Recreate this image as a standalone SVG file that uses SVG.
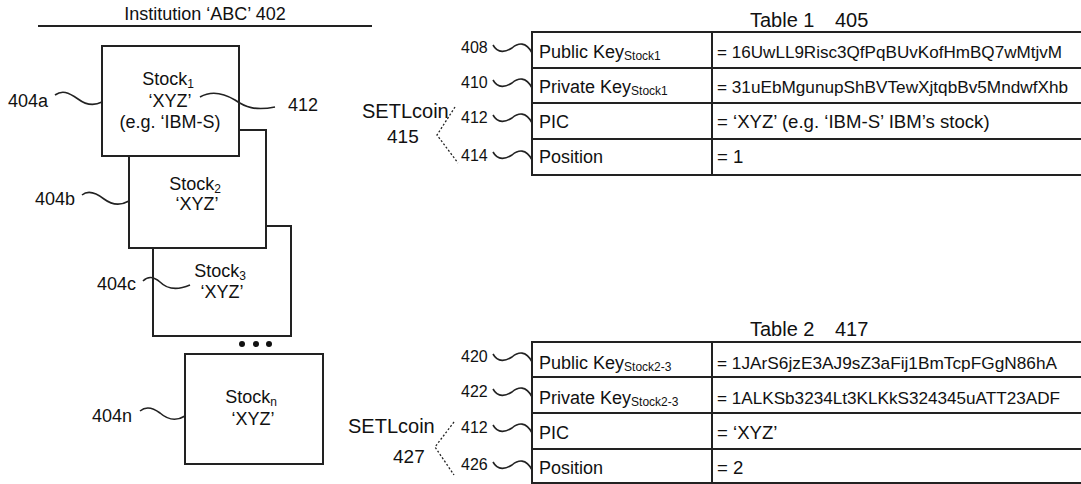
<svg xmlns="http://www.w3.org/2000/svg" width="1081" height="484" viewBox="0 0 1081 484">
<style>
text{font-family:"Liberation Sans",Arial,sans-serif;fill:#111}
.lbl{font-size:18px}
.val{font-size:18.6px}
.ttl{font-size:20px}
.box{fill:#fff;stroke:#222;stroke-width:2}
.tbl{fill:#fff;stroke:#222;stroke-width:2}
.sq{fill:none;stroke:#222;stroke-width:1.6}
.dot{fill:none;stroke:#222;stroke-width:1.3;stroke-dasharray:2 2}
.c{text-anchor:middle}
.sub{font-size:12px}
.key{font-size:17px}
.num{font-size:16px}
</style>
<g id="title">
<text class="lbl c" x="205" y="20">Institution ‘ABC’ 402</text>
<line x1="38" y1="26" x2="372" y2="26" stroke="#222" stroke-width="1.8"/>
</g>
<g id="stock3">
<rect class="box" x="153" y="226" width="138" height="110"/>
<text class="lbl c" x="220" y="277">Stock<tspan class="sub" dy="3">3</tspan></text>
<text class="lbl c" x="222" y="298">‘XYZ’</text>
</g>
<g id="stock2">
<rect class="box" x="129" y="130" width="137" height="118"/>
<text class="lbl c" x="195" y="190">Stock<tspan class="sub" dy="3">2</tspan></text>
<text class="lbl c" x="197" y="210">‘XYZ’</text>
</g>
<g id="stock1">
<rect class="box" x="102" y="46" width="137" height="110"/>
<text class="lbl c" x="168" y="85">Stock<tspan class="sub" dy="3">1</tspan></text>
<text class="lbl c" x="170" y="107">‘XYZ’</text>
<text class="lbl c" x="170" y="128">(e.g. ‘IBM-S)</text>
</g>
<g id="ellipsis">
<circle cx="242" cy="344" r="3" fill="#111"/>
<circle cx="256" cy="344" r="3" fill="#111"/>
<circle cx="269" cy="344" r="3" fill="#111"/>
</g>
<g id="stockn">
<rect class="box" x="185" y="354" width="138" height="110"/>
<text class="lbl c" x="251" y="403">Stock<tspan class="sub" dy="3">n</tspan></text>
<text class="lbl c" x="253" y="425">‘XYZ’</text>
</g>
<g id="labels-left">
<text class="lbl" x="8" y="107">404a</text>
<text class="lbl" x="35" y="205">404b</text>
<text class="lbl" x="97" y="290">404c</text>
<text class="lbl" x="92" y="422">404n</text>
<text class="lbl" x="288" y="111">412</text>
</g>
<g id="table1">
<text class="ttl" x="750" y="27">Table 1<tspan x="835">405</tspan></text>
<rect class="tbl" x="532" y="32" width="560" height="143"/>
<line x1="532" y1="68" x2="1090" y2="68" stroke="#222" stroke-width="2"/>
<line x1="532" y1="103" x2="1090" y2="103" stroke="#222" stroke-width="2"/>
<line x1="532" y1="139" x2="1090" y2="139" stroke="#222" stroke-width="2"/>
<line x1="712" y1="32" x2="712" y2="175" stroke="#222" stroke-width="2"/>
<text class="lbl" x="539" y="58">Public Key<tspan class="sub" dy="2">Stock1</tspan></text>
<text class="lbl" x="539" y="93">Private Key<tspan class="sub" dy="2">Stock1</tspan></text>
<text class="lbl" x="539" y="128">PIC</text>
<text class="lbl" x="539" y="163">Position</text>
<text class="key" x="717" y="58" textLength="345" lengthAdjust="spacingAndGlyphs">= 16UwLL9Risc3QfPqBUvKofHmBQ7wMtjvM</text>
<text class="key" x="717" y="93" textLength="351" lengthAdjust="spacingAndGlyphs">= 31uEbMgunupShBVTewXjtqbBv5MndwfXhb</text>
<text class="val" x="717" y="128">= ‘XYZ’ (e.g. ‘IBM-S’ IBM’s stock)</text>
<text class="val" x="717" y="163">= 1</text>
<text class="num" x="461" y="53">408</text>
<text class="num" x="461" y="88">410</text>
<text class="num" x="461" y="123">412</text>
<text class="num" x="461" y="161">414</text>
<text x="362" y="118" style="font-size:20px">SETLcoin</text>
<text x="387" y="143" style="font-size:19px">415</text>
</g>
<g id="table2">
<text class="ttl" x="750" y="336">Table 2<tspan x="835">417</tspan></text>
<rect class="tbl" x="532" y="342" width="560" height="141"/>
<line x1="532" y1="377" x2="1090" y2="377" stroke="#222" stroke-width="2"/>
<line x1="532" y1="413" x2="1090" y2="413" stroke="#222" stroke-width="2"/>
<line x1="532" y1="449" x2="1090" y2="449" stroke="#222" stroke-width="2"/>
<line x1="712" y1="342" x2="712" y2="484" stroke="#222" stroke-width="2"/>
<text class="lbl" x="539" y="369">Public Key<tspan class="sub" dy="2">Stock2-3</tspan></text>
<text class="lbl" x="539" y="404">Private Key<tspan class="sub" dy="2">Stock2-3</tspan></text>
<text class="lbl" x="539" y="439">PIC</text>
<text class="lbl" x="539" y="474">Position</text>
<text class="key" x="717" y="369" textLength="340" lengthAdjust="spacingAndGlyphs">= 1JArS6jzE3AJ9sZ3aFij1BmTcpFGgN86hA</text>
<text class="key" x="717" y="404" textLength="343" lengthAdjust="spacingAndGlyphs">= 1ALKSb3234Lt3KLKkS324345uATT23ADF</text>
<text class="val" x="717" y="439">= ‘XYZ’</text>
<text class="val" x="717" y="474">= 2</text>
<text class="num" x="461" y="362">420</text>
<text class="num" x="461" y="397">422</text>
<text class="num" x="461" y="433">412</text>
<text class="num" x="461" y="470">426</text>
<text x="348" y="433" style="font-size:20px">SETLcoin</text>
<text x="393" y="463" style="font-size:19px">427</text>
</g>
<g id="connectors">
<path class="sq" d="M55,95 C62,90 68,92 78,99 C86,105 94,106 102,102"/>
<path class="sq" d="M82,195 C88,190 95,192 104,199 C112,205 120,206 129,201"/>
<path class="sq" d="M143,281 C148,276 153,276 160,282 C167,289 176,291 190,285"/>
<path class="sq" d="M140,411 C146,406 152,407 160,413 C168,420 177,421 185,416"/>
<path class="sq" d="M200,97 C212,90 225,94 235,100 C245,107 255,111 275,107"/>
<path class="sq" d="M493,45 c5,9 13,7 19,3 c6,-5 14,-7 20,5"/>
<path class="sq" d="M493,80 c5,9 13,7 19,3 c6,-5 14,-7 20,5"/>
<path class="sq" d="M493,115 c5,9 13,7 19,3 c6,-5 14,-7 20,5"/>
<path class="sq" d="M493,152 c5,9 13,7 19,3 c6,-5 14,-7 20,5"/>
<path class="sq" d="M493,354 c5,9 13,7 19,3 c6,-5 14,-7 20,5"/>
<path class="sq" d="M493,389 c5,9 13,7 19,3 c6,-5 14,-7 20,5"/>
<path class="sq" d="M493,425 c5,9 13,7 19,3 c6,-5 14,-7 20,5"/>
<path class="sq" d="M493,462 c5,9 13,7 19,3 c6,-5 14,-7 20,5"/>
<path class="dot" d="M455,107 L437,135 L458,163"/>
<path class="dot" d="M454,422 L435,447 L454,475"/>
</g>
</svg>
